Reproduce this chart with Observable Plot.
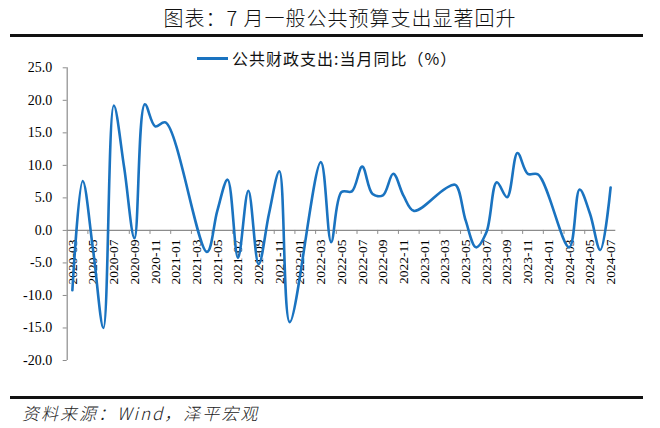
<!DOCTYPE html>
<html>
<head>
<meta charset="utf-8">
<script src="https://cdn.jsdelivr.net/npm/d3@7"></script>
<script src="https://cdn.jsdelivr.net/npm/@observablehq/plot@0.6"></script>
<style>
  html, body { margin: 0; padding: 0; background: #fff; }
  #wrap { position: relative; width: 660px; height: 428px; overflow: hidden; background: #fff; }
  #chart { position: absolute; left: 0; top: 0; }
  #chart svg text { font-family: "Liberation Serif", "Times New Roman", serif !important; }
  .title { position: absolute; left: 0; width: 680px; top: 3px; text-align: center;
           font-family: "Noto Sans CJK SC", sans-serif; font-size: 20px; font-weight: 300; color: #111; letter-spacing: 1px; }
  .rule { position: absolute; left: 10px; width: 633px; height: 3px; background: #111; }
  .legend { position: absolute; left: 197px; top: 47px; height: 22px; display: flex; align-items: center;
            font-family: "Noto Sans CJK SC", sans-serif; font-size: 16px; color: #111; letter-spacing: 1px; }
  .legend .sw { width: 31px; height: 3px; background: #1a73c0; margin-right: 4px; }
  .caption { position: absolute; left: 22px; top: 400px; font-family: "Noto Sans CJK SC", sans-serif;
             font-style: italic; font-size: 17px; font-weight: 300; color: #222; letter-spacing: 2px; }
</style>
</head>
<body>
<div id="wrap">
  <div id="chart"></div>
  <div class="title">图表：7 月一般公共预算支出显著回升</div>
  <div class="rule" style="top:34px"></div>
  <div class="legend"><span class="sw"></span><span>公共财政支出:当月同比（%）</span></div>
  <div class="rule" style="top:396px"></div>
  <div class="caption">资料来源：Wind，泽平宏观</div>
</div>
<script>
// Categories: monthly, 2020-03 .. 2024-07
const months = [
  "2020-03","2020-04","2020-05","2020-06","2020-07","2020-08","2020-09","2020-10","2020-11","2020-12",
  "2021-01","2021-02","2021-03","2021-04","2021-05","2021-06","2021-07","2021-08","2021-09","2021-10","2021-11","2021-12",
  "2022-01","2022-02","2022-03","2022-04","2022-05","2022-06","2022-07","2022-08","2022-09","2022-10","2022-11","2022-12",
  "2023-01","2023-02","2023-03","2023-04","2023-05","2023-06","2023-07","2023-08","2023-09","2023-10","2023-11","2023-12",
  "2024-01","2024-02","2024-03","2024-04","2024-05","2024-06","2024-07"
];
// 公共财政支出:当月同比 (%), null = no value for that month
const values = [
  -9.2, 7.6, -3.0, -15.0, 19.2, 9.7, -1.2, 19.4, 16.0, 16.6,
  null, null, null, -3.3, 3.0, 7.8, -4.2, 6.1, -5.2, 2.6, 9.1, -14.1,
  null, null, 10.5, -1.8, 5.9, 6.0, 9.8, 5.6, 5.4, 8.7, 5.3, 3.0,
  null, null, 6.4, 7.0, 1.5, -2.6, -0.3, 7.4, 5.1, 11.9, 8.7, 8.6,
  null, null, -2.6, 6.3, 2.6, -3.0, 6.6
];
const yTicks = [-20, -15, -10, -5, 0, 5, 10, 15, 20, 25];
const tickLabels = months.filter((_, i) => i % 2 === 0);

const W = 660, H = 428;
const mL = 66.7, mR = 44.7, mT = 67.3, mB = 68;
const yDomain = [-20, 25];
const pxPerUnit = (H - mT - mB) / (yDomain[1] - yDomain[0]);
const tickLen = 4 / pxPerUnit;

const series = months.map((m, i) => ({i, m, v: values[i]})).filter(d => d.v != null);
const labelData = months.map((m, i) => ({i, m})).filter(d => d.i % 2 === 0);
const boundaries = d3.range(2, months.length, 2);

const serif = "Liberation Serif";
const axisGray = "#8c8c8c";
const chart = Plot.plot({
  width: W, height: H,
  marginLeft: mL, marginRight: mR, marginTop: mT, marginBottom: mB,
  style: {fontFamily: serif, fontSize: "13px", color: "#000", background: "transparent"},
  x: {domain: [0, months.length], axis: null},
  y: {domain: yDomain, axis: null},
  marks: [
    Plot.ruleX([0], {stroke: axisGray, strokeWidth: 1.2}),
    Plot.ruleY([0], {stroke: axisGray, strokeWidth: 1.2}),
    Plot.ruleX(boundaries, {x: d => d, y1: 0, y2: -tickLen, stroke: axisGray, strokeWidth: 1}),
    Plot.axisY({ticks: yTicks, label: null, tickFormat: d => d.toFixed(1), tickSize: 4, tickPadding: 11,
                stroke: axisGray, fill: "#000", fontSize: 14}),
    Plot.text(labelData, {x: d => d.i + 0.5, y: 0, text: d => tickLabels[d.i / 2], rotate: -90,
                          textAnchor: "end", dy: 9, fill: "#000", fontSize: 13.5}),
    Plot.line(series, {x: d => d.i + 0.5, y: "v", curve: "catmull-rom", stroke: "#1a73c0", strokeWidth: 2.6})
  ]
});
document.getElementById("chart").appendChild(chart);
</script>
</body>
</html>
